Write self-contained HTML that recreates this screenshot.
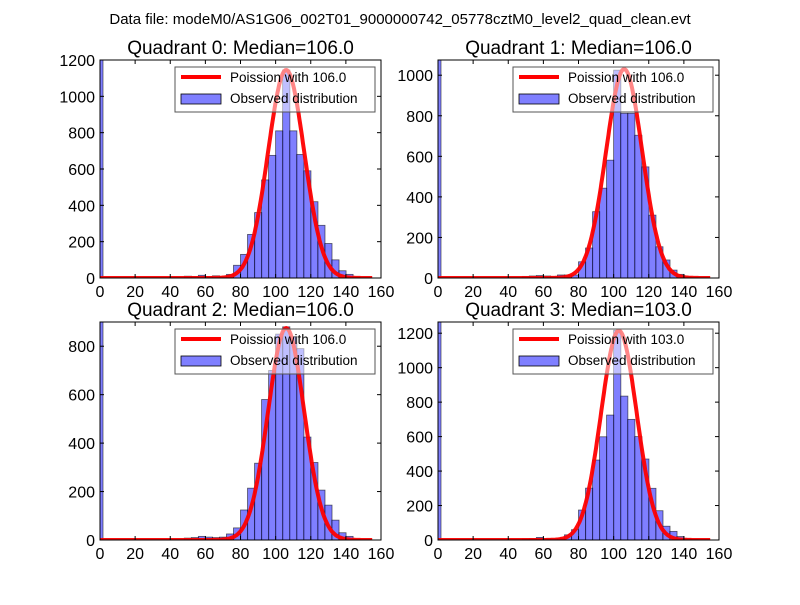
<!DOCTYPE html>
<html><head><meta charset="utf-8"><style>
body{margin:0;background:#fff;}
svg text{font-family:"Liberation Sans","DejaVu Sans",sans-serif;}
</style></head><body>
<svg id="fig" width="800" height="600" xmlns="http://www.w3.org/2000/svg">
<rect width="800" height="600" fill="#fff"/>
<text x="400" y="24" font-size="15" text-anchor="middle">Data file: modeM0/AS1G06_002T01_9000000742_05778cztM0_level2_quad_clean.evt</text>
</svg>
<script>
// ---- data ----
const binStarts = [-2.4, 48, 52, 56, 60, 64, 68, 72, 76, 80, 84, 88, 92, 96, 100, 104, 108, 112, 116, 120, 124, 128, 132, 136, 140, 144];
const binWidth = 4.12;
const q0Counts = [1300, 10, 8, 15, 8, 12, 8, 20, 70, 130, 240, 360, 540, 675, 810, 1145, 810, 680, 590, 420, 290, 190, 100, 40, 20, 5];
const q1Counts = [1300, 8, 10, 12, 10, 8, 15, 15, 15, 80, 148, 327, 443, 581, 1025, 812, 812, 704, 548, 310, 154, 89, 39, 18, 6, 2];
const q2Counts = [1300, 8, 10, 15, 12, 10, 12, 25, 50, 124, 214, 317, 580, 700, 850, 880, 840, 790, 425, 320, 206, 144, 82, 30, 15, 3];
const q3Counts = [1300, 6, 8, 15, 8, 8, 8, 30, 60, 174, 301, 464, 599, 725, 1217, 835, 700, 600, 470, 300, 170, 80, 50, 20, 8, 3];
const medians = [106.0, 106.0, 106.0, 103.0];
const peaks = [1145, 1030, 875, 1215];
const yMaxes = [1200, 1075, 900, 1265];
const yTicks0 = [0, 200, 400, 600, 800, 1000, 1200];
const yTicks1 = [0, 200, 400, 600, 800, 1000];
const yTicks2 = [0, 200, 400, 600, 800];
const yTicks3 = [0, 200, 400, 600, 800, 1000, 1200];
const xTicks = [0, 20, 40, 60, 80, 100, 120, 140, 160];

const NS = "http://www.w3.org/2000/svg";
const svg = document.getElementById('fig');
function mk(tag, attrs, parent){const e=document.createElementNS(NS,tag);for(const k in attrs)e.setAttribute(k,attrs[k]);(parent||svg).appendChild(e);return e;}

const panels = [
 {x0:100,y0:60,counts:q0Counts,yt:yTicks0},
 {x0:438,y0:60,counts:q1Counts,yt:yTicks1},
 {x0:100,y0:322,counts:q2Counts,yt:yTicks2},
 {x0:438,y0:322,counts:q3Counts,yt:yTicks3}
];
const W=281,H=218,XMAX=160;
panels.forEach((p,i)=>{
  const xs=v=>p.x0+v/XMAX*W;
  const ys=v=>p.y0+H-v/yMaxes[i]*H;
  const g=mk('g',{});
  
  
  const cid='clip'+i;
  const cp=mk('clipPath',{id:cid},g);
  mk('rect',{x:p.x0,y:p.y0,width:W,height:H},cp);
  const pg=mk('g',{'clip-path':'url(#'+cid+')'},g);
  p.counts.forEach((c,j)=>{
    const x1=xs(binStarts[j]),x2=xs(binStarts[j]+binWidth);
    const r=mk('rect',{x:x1,y:ys(c),width:x2-x1,height:ys(0)-ys(c),fill:'rgba(0,0,255,0.5)',stroke:'rgba(0,0,0,0.6)','stroke-width':0.8},pg);
    
    
  });
  const mu=medians[i];let d='';
  for(let v=0;v<=155;v+=0.5){const y=peaks[i]*Math.exp(-(v-mu)*(v-mu)/(2*mu));d+=(v?'L':'M')+xs(v).toFixed(1)+','+ys(y).toFixed(1);}
  const pl=mk('path',{d:d,fill:'none',stroke:'rgba(255,0,0,0.95)','stroke-width':4},pg);
  
  
  mk('rect',{x:p.x0,y:p.y0,width:W,height:H,fill:'none',stroke:'#000','stroke-width':1},g);
  xTicks.forEach(t=>{
    const x=xs(t);
    mk('line',{x1:x,y1:p.y0+H,x2:x,y2:p.y0+H-4,stroke:'#000'},g);
    mk('line',{x1:x,y1:p.y0,x2:x,y2:p.y0+4,stroke:'#000'},g);
    const tx=mk('text',{x:x,y:p.y0+H+19,'font-size':16,'text-anchor':'middle'},g);
    tx.textContent=t;
    
    
  });
  p.yt.forEach(t=>{
    const y=ys(t);
    mk('line',{x1:p.x0,y1:y,x2:p.x0+4,y2:y,stroke:'#000'},g);
    mk('line',{x1:p.x0+W,y1:y,x2:p.x0+W-4,y2:y,stroke:'#000'},g);
    const tx=mk('text',{x:p.x0-5,y:y+6,'font-size':16,'text-anchor':'end'},g);
    tx.textContent=t;
    
    
  });
  const ti=mk('text',{x:p.x0+W/2,y:p.y0-6,'font-size':19,'text-anchor':'middle'},g);
  ti.textContent='Quadrant '+i+': Median='+medians[i].toFixed(1);
  
  
  const lg=mk('g',{},g);
  
  
  const lx=p.x0+75,ly=p.y0+7;
  mk('rect',{x:lx,y:ly,width:200,height:45,fill:'rgba(255,255,255,0.5)',stroke:'#555','stroke-width':1},lg);
  mk('line',{x1:lx+6,y1:ly+10,x2:lx+46,y2:ly+10,stroke:'#f00','stroke-width':4},lg);
  const t1=mk('text',{x:lx+55,y:ly+15,'font-size':13.5},lg);t1.textContent='Poission with '+medians[i].toFixed(1);
  
  
  mk('rect',{x:lx+6,y:ly+27,width:40,height:10,fill:'rgba(0,0,255,0.5)',stroke:'#000','stroke-width':0.8},lg);
  const t2=mk('text',{x:lx+55,y:ly+36,'font-size':13.5},lg);t2.textContent='Observed distribution';
  
  
});
</script>
</body></html>
